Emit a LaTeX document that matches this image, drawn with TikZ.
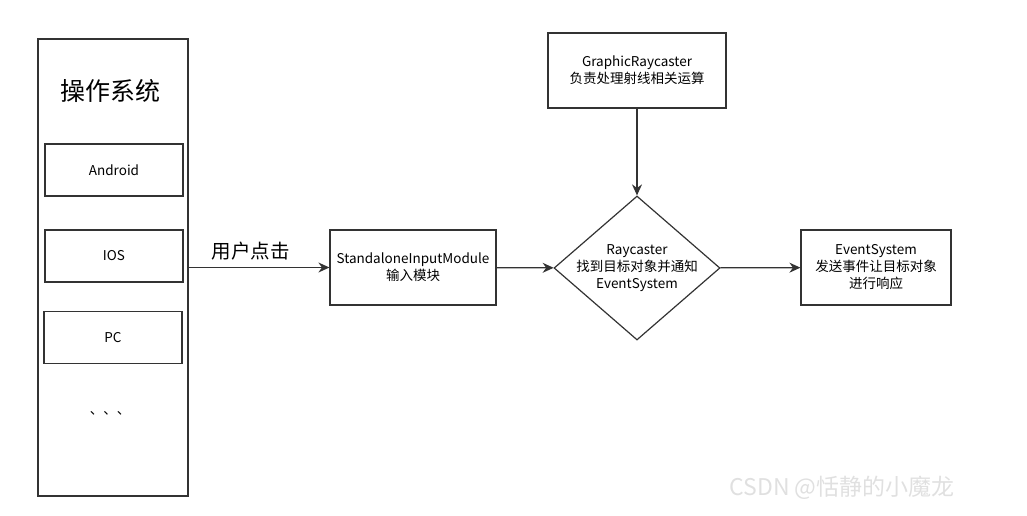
\documentclass[tikz,border=0pt]{standalone}
\usepackage{fontspec}
\setmainfont{Noto Sans CJK SC}
\usepackage{tikz}
\usetikzlibrary{shapes,arrows.meta}
\newcommand{\osbox}[3] {\node at (#1) (#2) [rectangle, draw, minimum width=138pt, minimum height=52pt] {#3};}
\newcommand{\modbox}[4] {\node at (#1) (#2) [rectangle, draw, align=center, minimum width=#3, minimum height=75pt] {#4};}
\newcommand{\flow}[2] {\draw [->] (#1) -- (#2);}

\begin{document}
\begin{tikzpicture}[x=1pt, y=-1pt, inner sep=0pt, line width=1.2pt, draw=black!80,
  font=\fontsize{13.5}{17}\selectfont,
  >={Stealth[length=11pt, width=10pt]}]
\useasboundingbox (0,0) rectangle (1027,516);

% operating systems
\node at (113,267.5) (os) [rectangle, draw, minimum width=150pt, minimum height=457pt] {};
\node at (110,91) (ostitle) {\fontsize{25}{28}\selectfont 操作系统};
\osbox{114,170}{android}{Android}
\osbox{114,256}{ios}{IOS}
\osbox{113,337.5}{pc}{PC}
\node at (110,413) (dots) {、、、};

% modules
\modbox{413,267.5}{input}{166pt}{StandaloneInputModule\\输入模块}
\modbox{637,70.5}{graphic}{178pt}{GraphicRaycaster\\负责处理射线相关运算}
\modbox{876,267.5}{event}{150pt}{EventSystem\\发送事件让目标对象\\进行响应}
\node at (637,268) (ray) [diamond, draw, minimum width=166pt, minimum height=144pt,
  label={[align=center]center:Raycaster\\找到目标对象并通知\\EventSystem}] {};

\draw [->] (os.east |- input.west) -- (input.west)
  node [pos=0.44, above=7pt] {\fontsize{19.5}{22}\selectfont 用户点击};
\flow{input}{ray}
\flow{graphic}{ray}
\flow{ray}{event}

\node at (842,488) (mark) [text=black!12] {\fontsize{23}{26}\selectfont CSDN @恬静的小魔龙};

\end{tikzpicture}
\end{document}
